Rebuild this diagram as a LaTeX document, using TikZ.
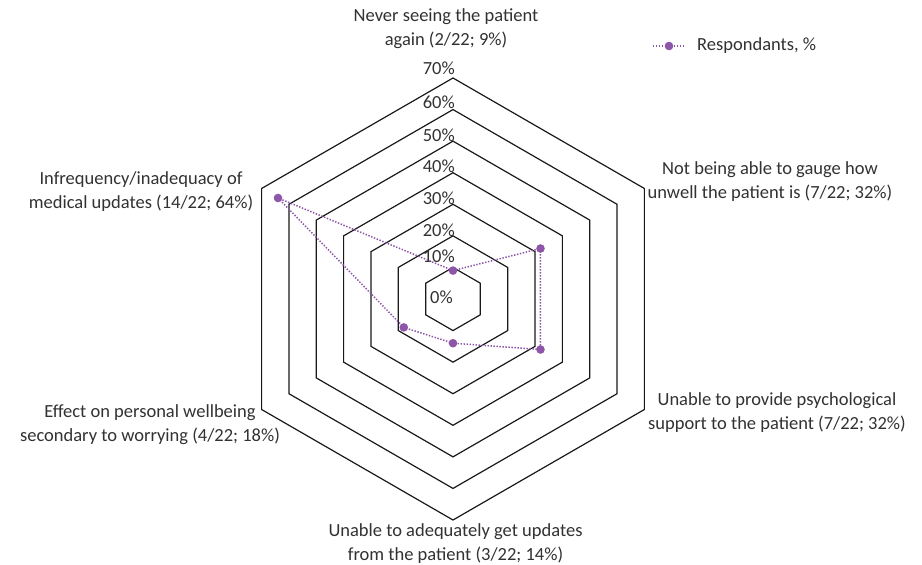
\documentclass[tikz,border=0pt]{standalone}
\usepackage{fontspec}
\setmainfont{Carlito}
\definecolor{series}{RGB}{142,86,168}
\definecolor{txt}{RGB}{50,50,50}
\begin{document}
\begin{tikzpicture}[x=1pt,y=-1pt,
  ring/.style={draw=black!90, line width=1.2pt, line join=miter},
  lbl/.style={font=\fontsize{18.5}{24}\selectfont, text=txt, align=center, inner sep=0pt},
  pct/.style={font=\fontsize{18.5}{24}\selectfont, text=txt, anchor=east, inner sep=0pt},
  dot/.style={circle, fill=series, draw=none, minimum size=8.6pt, inner sep=0pt},
  serline/.style={draw=series, line width=1.5pt, dash pattern=on 1.4pt off 1.6pt}]
\useasboundingbox (0,0) rectangle (922,565);
\fill[white] (0,0) rectangle (922,565);
% rings
\foreach \k in {1,...,7}{
  \pgfmathsetmacro{\r}{\k*221/7}
  \draw[ring, shift={(453,299)}] (270:\r) -- (330:\r) -- (30:\r) -- (90:\r) -- (150:\r) -- (210:\r) -- cycle;
}
% percent labels
\node[pct] (l70) at (455,68) {70\%};
\node[pct] (l60) at (455,102.7) {60\%};
\node[pct] (l50) at (455,135) {50\%};
\node[pct] (l40) at (455,166) {40\%};
\node[pct] (l30) at (455,198) {30\%};
\node[pct] (l20) at (455,230) {20\%};
\node[pct] (l10) at (455,256.7) {10\%};
\node[pct] (l0) at (453,297) {0\%};
% data points
\begin{scope}[shift={(453,299)}]
  \node[dot] (p1) at (270:{9*221/70}) {};
  \node[dot] (p2) at (330:{32*221/70}) {};
  \node[dot] (p3) at (30:{32*221/70}) {};
  \node[dot] (p4) at (90:{14*221/70}) {};
  \node[dot] (p5) at (150:{18*221/70}) {};
  \node[dot] (p6) at (210:{64*221/70}) {};
\end{scope}
\draw[serline] (p1.center) -- (p2.center) -- (p3.center) -- (p4.center) -- (p5.center) -- (p6.center) -- cycle;
% category labels
\node[lbl] (c1) at (446,29) {Never seeing the patient\\again (2/22; 9\%)};
\node[lbl] (c2) at (770,181.5) {Not being able to gauge how\\unwell the patient is (7/22; 32\%)};
\node[lbl] (c3) at (777,412.5) {Unable to provide psychological\\support to the patient (7/22; 32\%)};
\node[lbl] (c4) at (455.5,544) {Unable to adequately get updates\\from the patient (3/22; 14\%)};
\node[lbl] (c5) at (150,425) {Effect on personal wellbeing\\secondary to worrying (4/22; 18\%)};
\node[lbl] (c6) at (141,191.5) {Infrequency/inadequacy of\\medical updates (14/22; 64\%)};
% legend
\coordinate (lgA) at (653,46);
\coordinate (lgB) at (685,46);
\draw[serline] (lgA) -- (lgB);
\node[dot] (lgd) at (669,46) {};
\node[lbl, anchor=west] (lgt) at (697,46) {Respondants, \%};
\end{tikzpicture}
\end{document}
